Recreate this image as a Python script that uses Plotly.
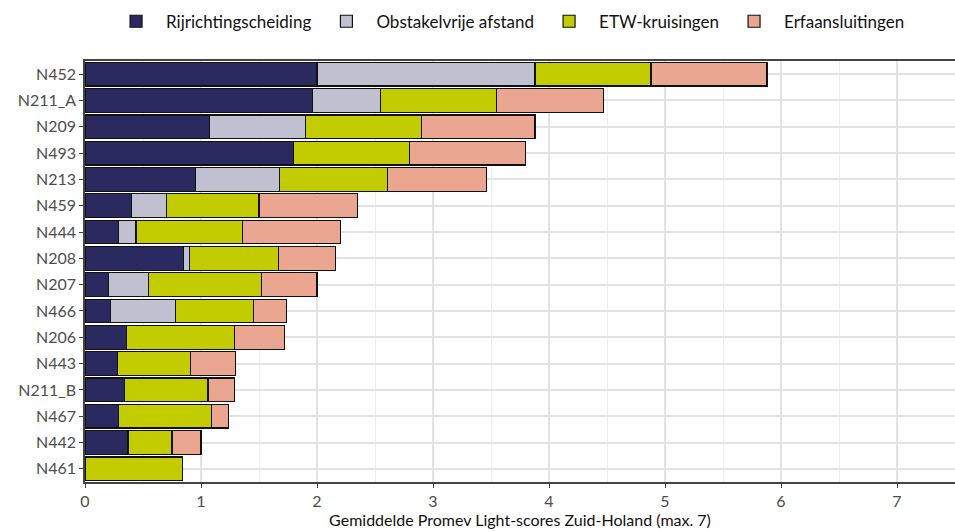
import plotly.graph_objects as go

# roads, top to bottom
roads = ["N452", "N211_A", "N209", "N493", "N213", "N459", "N444", "N208",
         "N207", "N466", "N206", "N443", "N211_B", "N467", "N442", "N461"]

rijrichtingscheiding = [2.00, 1.96, 1.07, 1.80, 0.95, 0.40, 0.29, 0.85,
                        0.20, 0.22, 0.36, 0.28, 0.34, 0.29, 0.37, 0.00]
obstakelvrije_afstand = [1.88, 0.59, 0.83, 0.00, 0.73, 0.30, 0.15, 0.05,
                         0.35, 0.56, 0.00, 0.00, 0.00, 0.00, 0.00, 0.00]
etw_kruisingen = [1.00, 1.00, 1.00, 1.00, 0.93, 0.80, 0.92, 0.77,
                  0.97, 0.67, 0.93, 0.63, 0.72, 0.80, 0.38, 0.84]
erfaansluitingen = [1.00, 0.92, 0.98, 1.00, 0.85, 0.85, 0.84, 0.49,
                    0.48, 0.29, 0.43, 0.39, 0.23, 0.15, 0.25, 0.00]

series = [
    ("Rijrichtingscheiding", rijrichtingscheiding, "#2a2a60"),
    ("Obstakelvrije afstand", obstakelvrije_afstand, "#c0c0d0"),
    ("ETW-kruisingen", etw_kruisingen, "#c3cc00"),
    ("Erfaansluitingen", erfaansluitingen, "#eaa690"),
]

FONT = "Lato, 'Open Sans', sans-serif"
GRID = "#e3e3e3"

fig = go.Figure(
    data=[
        go.Bar(
            y=roads,
            x=vals,
            name=name,
            orientation="h",
            marker=dict(color=color, line=dict(color="#111111", width=1.2)),
        )
        for name, vals, color in series
    ],
    layout=go.Layout(
        barmode="stack",
        bargap=0.1,
        width=955,
        height=531,
        paper_bgcolor="white",
        plot_bgcolor="white",
        margin=dict(t=61, b=49, l=85, r=0, autoexpand=False),
        font=dict(family=FONT, color="#4d4d4d", size=16),
        legend=dict(
            orientation="h",
            x=0.532,
            xref="container",
            xanchor="center",
            y=0.993,
            yanchor="top",
            yref="container",
            font=dict(size=17, color="#111111"),
            itemwidth=50,
            traceorder="normal",
        ),
        xaxis=dict(
            range=[0, 7.5],
            dtick=1,
            automargin=False,
            showgrid=True,
            gridcolor=GRID,
            gridwidth=1.5,
            minor=dict(dtick=0.5, showgrid=True, gridcolor="#eeeeee", gridwidth=1),
            zeroline=False,
            showline=True,
            linecolor="#444444",
            linewidth=1.5,
            mirror=True,
            ticks="outside",
            ticklen=4,
            tickcolor="#444444",
            tickfont=dict(size=16, color="#4d4d4d"),
            title=dict(
                text="Gemiddelde Promev Light-scores Zuid-Holand (max. 7)",
                font=dict(size=16, color="#111111"),
                standoff=4,
            ),
        ),
        yaxis=dict(
            categoryorder="array",
            categoryarray=roads,
            autorange="reversed",
            automargin=False,
            showgrid=True,
            gridcolor=GRID,
            gridwidth=1.5,
            showline=True,
            linecolor="#444444",
            linewidth=1.5,
            ticks="outside",
            ticklen=4,
            tickcolor="#444444",
            tickfont=dict(size=16, color="#4d4d4d"),
        ),
    ),
)

# the page's default body margin would shift the 955x531 figure
fig.write_html(
    "out.html",
    config={"displayModeBar": False},
    post_script="document.body.style.margin='0';document.body.style.overflow='hidden';",
)
